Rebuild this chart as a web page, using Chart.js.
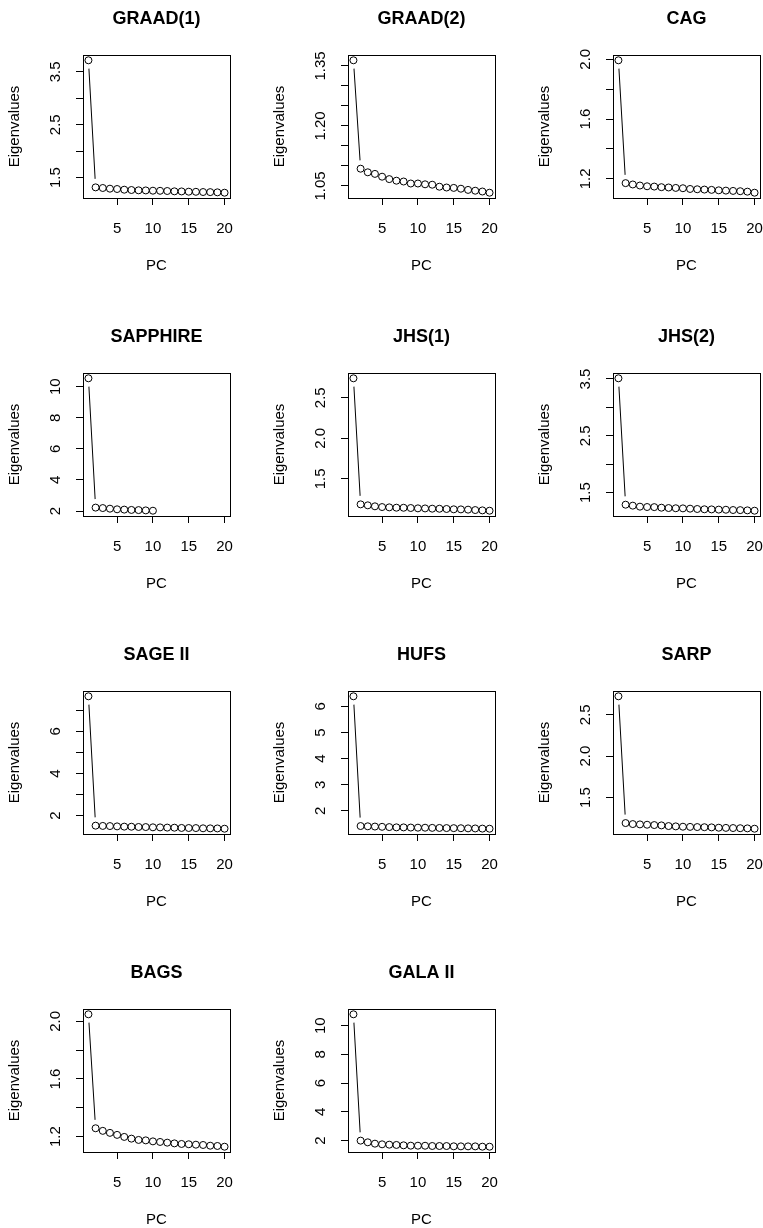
<!DOCTYPE html>
<html>
<head>
<meta charset="utf-8">
<script src="https://cdn.jsdelivr.net/npm/chart.js@4.4.0/dist/chart.umd.min.js"></script>
<style>
  html, body { margin: 0; padding: 0; background: #fff; overflow: hidden; }
  #page { position: relative; width: 763px; height: 1228px; overflow: hidden; background: #fff; }
  #page canvas { position: absolute; }
</style>
</head>
<body>
<div id="page"></div>
<script>
let _$ = (selector) => document.querySelector(selector);

const panelNames = ['GRAAD(1)', 'GRAAD(2)', 'CAG', 'SAPPHIRE', 'JHS(1)', 'JHS(2)', 'SAGE II', 'HUFS', 'SARP', 'BAGS', 'GALA II'];

// eigenvalues (PC 1..20)
const graad1 = [3.72, 1.316, 1.304, 1.291, 1.285, 1.272, 1.266, 1.260, 1.258, 1.253, 1.251, 1.247, 1.241, 1.239, 1.234, 1.232, 1.228, 1.226, 1.222, 1.215];
const graad2 = [1.364, 1.093, 1.084, 1.080, 1.073, 1.067, 1.063, 1.061, 1.056, 1.056, 1.054, 1.053, 1.048, 1.046, 1.045, 1.043, 1.040, 1.038, 1.036, 1.033];
const cag = [1.993, 1.171, 1.162, 1.155, 1.150, 1.148, 1.144, 1.142, 1.139, 1.137, 1.132, 1.130, 1.128, 1.126, 1.123, 1.121, 1.119, 1.117, 1.114, 1.107];
const sapphire = [10.54, 2.22, 2.19, 2.15, 2.11, 2.09, 2.07, 2.06, 2.04, 2.02];
const jhs1 = [2.739, 1.187, 1.175, 1.163, 1.154, 1.150, 1.146, 1.145, 1.142, 1.138, 1.137, 1.134, 1.133, 1.130, 1.126, 1.125, 1.122, 1.117, 1.113, 1.109];
const jhs2 = [3.512, 1.288, 1.271, 1.253, 1.247, 1.245, 1.235, 1.229, 1.225, 1.223, 1.218, 1.212, 1.207, 1.205, 1.201, 1.199, 1.194, 1.192, 1.188, 1.182];
const sage2 = [7.667, 1.524, 1.512, 1.505, 1.490, 1.478, 1.474, 1.462, 1.458, 1.446, 1.442, 1.432, 1.428, 1.416, 1.413, 1.410, 1.399, 1.396, 1.393, 1.380];
const hufs = [6.386, 1.42, 1.41, 1.40, 1.39, 1.38, 1.37, 1.368, 1.362, 1.358, 1.356, 1.35, 1.347, 1.342, 1.339, 1.336, 1.331, 1.328, 1.322, 1.318];
const sarp = [2.723, 1.192, 1.180, 1.176, 1.172, 1.168, 1.164, 1.156, 1.152, 1.148, 1.146, 1.144, 1.142, 1.140, 1.136, 1.134, 1.132, 1.130, 1.128, 1.124];
const bags = [2.049, 1.258, 1.240, 1.226, 1.212, 1.198, 1.186, 1.177, 1.174, 1.167, 1.163, 1.158, 1.153, 1.149, 1.147, 1.144, 1.142, 1.137, 1.135, 1.130];
const galaII = [10.79, 2.00, 1.884, 1.79, 1.744, 1.72, 1.70, 1.674, 1.65, 1.648, 1.645, 1.628, 1.626, 1.624, 1.605, 1.603, 1.601, 1.60, 1.58, 1.578];
const eigenvalues = [graad1, graad2, cag, sapphire, jhs1, jhs2, sage2, hufs, sarp, bags, galaII];

const xLimits = [1, 20];
const xTicks = [5, 10, 15, 20];

const yTicks = [
  [1.5, 2, 2.5, 3, 3.5],
  [1.05, 1.10, 1.15, 1.20, 1.25, 1.30, 1.35],
  [1.2, 1.4, 1.6, 1.8, 2.0],
  [2, 4, 6, 8, 10],
  [1.5, 2.0, 2.5],
  [1.5, 2, 2.5, 3, 3.5],
  [2, 3, 4, 5, 6, 7],
  [2, 3, 4, 5, 6],
  [1.5, 2.0, 2.5],
  [1.2, 1.4, 1.6, 1.8, 2.0],
  [2, 4, 6, 8, 10]
];
const yTickLabels = [
  ['1.5', '', '2.5', '', '3.5'],
  ['1.05', '', '', '1.20', '', '', '1.35'],
  ['1.2', '', '1.6', '', '2.0'],
  ['2', '4', '6', '8', '10'],
  ['1.5', '2.0', '2.5'],
  ['1.5', '', '2.5', '', '3.5'],
  ['2', '', '4', '', '6', ''],
  ['2', '3', '4', '5', '6'],
  ['1.5', '2.0', '2.5'],
  ['1.2', '', '1.6', '', '2.0'],
  ['2', '4', '6', '8', '10']
];

const FONT = '"Liberation Sans", Arial, Helvetica, sans-serif';
Chart.defaults.font.family = FONT;
Chart.defaults.font.size = 15;
Chart.defaults.color = '#000';

// R-like range: data range stretched by 4% each side
const padRange = (lo, hi) => {
  const ext = (hi - lo) * 0.04;
  return [lo - ext, hi + ext];
};

const measureCtx = document.createElement('canvas').getContext('2d');
measureCtx.font = '15px ' + FONT;
const widest = (labels) => Math.max(...labels.map(l => measureCtx.measureText(l).width));

const boxPlugin = {
  id: 'box',
  afterDraw(chart) {
    const {ctx, chartArea: a} = chart;
    ctx.save();
    ctx.strokeStyle = '#000';
    ctx.lineWidth = 1;
    ctx.strokeRect(Math.round(a.left) + 0.5, Math.round(a.top) + 0.5, Math.round(a.right - a.left), Math.round(a.bottom - a.top));
    ctx.restore();
  }
};

const axisLine = {display: true, drawOnChartArea: false, drawTicks: true, tickLength: 7, color: '#000', lineWidth: 1};

const createPanel = (i) => {
  const vals = eigenvalues[i];
  const pts = vals.map((v, k) => ({x: k + 1, y: v}));
  const [yMin, yMax] = padRange(Math.min(...vals), Math.max(...vals));
  const [xMin, xMax] = padRange(xLimits[0], xLimits[1]);
  const labels = yTickLabels[i];

  const canvas = document.createElement('canvas');
  canvas.width = 265;
  canvas.height = 318;
  canvas.style.left = (i % 3) * 265 + 'px';
  canvas.style.top = Math.floor(i / 3) * 318 + 'px';
  _$('#page').appendChild(canvas);

  const data = {
    datasets: [
      // open circles (drawn on top)
      {data: pts, showLine: false, pointRadius: 3.5, pointBorderWidth: 1, pointBorderColor: '#000', pointBackgroundColor: 'rgba(0,0,0,0)'},
      // white gap around each point, like type = "b"
      {data: pts, showLine: false, pointRadius: 8.5, pointBorderWidth: 0, pointBorderColor: '#fff', pointBackgroundColor: '#fff', clip: 0},
      // connecting line
      {data: pts, borderColor: '#000', borderWidth: 1, pointRadius: 0, tension: 0, fill: false}
    ]
  };

  const config = {
    type: 'line',
    data: data,
    plugins: [boxPlugin],
    options: {
      responsive: false,
      animation: false,
      events: [],
      layout: {padding: {left: 0, right: 35, top: 0, bottom: 0}},
      plugins: {
        legend: {display: false},
        tooltip: {enabled: false},
        title: {
          display: true, text: panelNames[i], fullSize: false, color: '#000',
          font: {size: 18, weight: 'bold'},
          padding: {top: 8, bottom: 25.4}
        }
      },
      scales: {
        x: {
          type: 'linear', min: xMin, max: xMax,
          afterBuildTicks: s => { s.ticks = xTicks.map(v => ({value: v})); },
          afterFit: s => { s.height = 120; s.paddingLeft = 0; s.paddingRight = 0; },
          ticks: {autoSkip: false, maxRotation: 0, padding: 14.5, callback: v => String(v)},
          grid: axisLine,
          border: {display: true, color: '#000', width: 1},
          title: {display: true, text: 'PC', padding: {top: 0, bottom: 43.5}}
        },
        y: {
          type: 'linear', min: yMin, max: yMax,
          afterBuildTicks: s => { s.ticks = yTicks[i].map(v => ({value: v})); },
          afterFit: s => { s.width = 83; s.paddingTop = 0; s.paddingBottom = 0; },
          ticks: {
            autoSkip: false, minRotation: 90, maxRotation: 90, crossAlign: 'center',
            padding: 20.5 - widest(labels.filter(l => l)) / 2,
            callback: (v, k) => labels[k]
          },
          grid: axisLine,
          border: {display: true, color: '#000', width: 1},
          title: {display: true, text: 'Eigenvalues', padding: {top: 5.4, bottom: 0}}
        }
      }
    }
  };
  const myChart = new Chart(canvas, config);
};

const handlePanels = () => {
  panelNames.forEach((name, i) => createPanel(i));
};

handlePanels();
</script>
</body>
</html>
